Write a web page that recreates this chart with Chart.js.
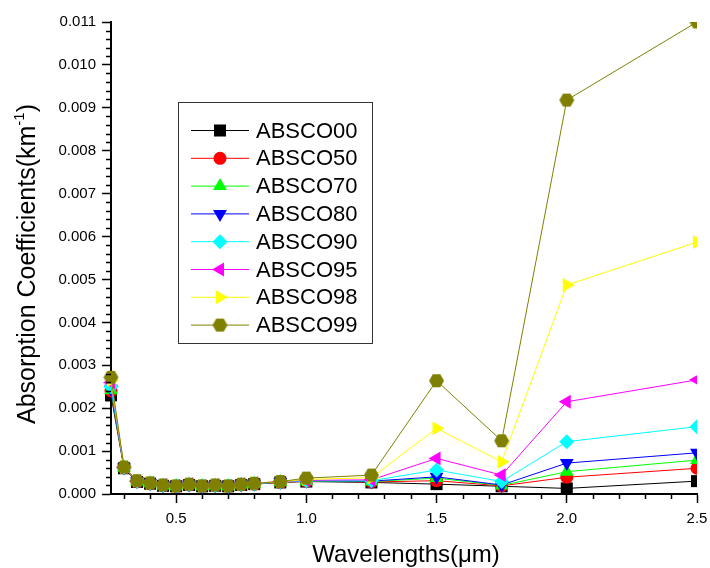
<!DOCTYPE html>
<html>
<head>
<meta charset="utf-8">
<script src="https://cdn.jsdelivr.net/npm/chart.js@4.4.1/dist/chart.umd.min.js"></script>
<style>
  html, body { margin: 0; padding: 0; background: #fff; }
  canvas { display: block; }
</style>
</head>
<body>
<canvas id="myChart" width="710" height="568"></canvas>
<script>
// wavelengths in micrometres
const wavelengths = [0.25, 0.3, 0.35, 0.4, 0.45, 0.5, 0.55, 0.6, 0.65, 0.7, 0.75, 0.8, 0.9, 1.0, 1.25, 1.5, 1.75, 2.0, 2.5];

const absco00 = [0.00230, 0.00060, 0.00028, 0.00024, 0.00019, 0.00018, 0.00021, 0.00018, 0.00019, 0.00018, 0.00021, 0.00023, 0.00027, 0.00029, 0.00027, 0.00023, 0.00018, 0.00013, 0.00030];
const absco50 = [0.00240, 0.00061, 0.00029, 0.00024, 0.00020, 0.00018, 0.00021, 0.00018, 0.00020, 0.00018, 0.00021, 0.00023, 0.00027, 0.00030, 0.00028, 0.00031, 0.00019, 0.00039, 0.00060];
const absco70 = [0.00242, 0.00061, 0.00029, 0.00025, 0.00020, 0.00018, 0.00022, 0.00018, 0.00020, 0.00018, 0.00022, 0.00024, 0.00028, 0.00030, 0.00029, 0.00037, 0.00020, 0.00052, 0.00079];
const absco80 = [0.00245, 0.00062, 0.00030, 0.00025, 0.00020, 0.00019, 0.00022, 0.00018, 0.00020, 0.00018, 0.00022, 0.00024, 0.00028, 0.00031, 0.00030, 0.00040, 0.00021, 0.00072, 0.00096];
const absco90 = [0.00250, 0.00062, 0.00030, 0.00025, 0.00020, 0.00019, 0.00022, 0.00019, 0.00020, 0.00019, 0.00022, 0.00024, 0.00028, 0.00031, 0.00031, 0.00056, 0.00029, 0.00122, 0.00157];
const absco95 = [0.00260, 0.00062, 0.00030, 0.00026, 0.00021, 0.00019, 0.00023, 0.00019, 0.00021, 0.00019, 0.00023, 0.00025, 0.00029, 0.00032, 0.00033, 0.00083, 0.00044, 0.00215, 0.00266];
const absco98 = [0.00265, 0.00063, 0.00031, 0.00026, 0.00021, 0.00019, 0.00023, 0.00019, 0.00021, 0.00019, 0.00023, 0.00025, 0.00029, 0.00034, 0.00038, 0.00153, 0.00075, 0.00487, 0.00587];
const absco99 = [0.00272, 0.00063, 0.00031, 0.00026, 0.00021, 0.00019, 0.00023, 0.00019, 0.00021, 0.00019, 0.00023, 0.00025, 0.00029, 0.00037, 0.00044, 0.00264, 0.00124, 0.00918, 0.01100];

const xTicks = [0.5, 1.0, 1.5, 2.0, 2.5];
const yTicks = [0, 0.001, 0.002, 0.003, 0.004, 0.005, 0.006, 0.007, 0.008, 0.009, 0.010, 0.011];

const FONT = "'Liberation Sans', Arial, sans-serif";

// hexagon marker (Chart.js has no hexagon style)
function hexagon(color, r) {
  const c = document.createElement('canvas');
  const s = Math.ceil(r * 2) + 2;
  c.width = s; c.height = s;
  const g = c.getContext('2d');
  g.fillStyle = color;
  g.beginPath();
  for (let i = 0; i < 6; i++) {
    const a = Math.PI / 3 * i;
    const px = s / 2 + r * Math.cos(a), py = s / 2 + r * Math.sin(a);
    if (i === 0) g.moveTo(px, py); else g.lineTo(px, py);
  }
  g.closePath();
  g.fill();
  return c;
}

const series = [
  { label: 'ABSCO00', values: absco00, color: '#000000', style: 'rect', rot: 0, r: 8.5 },
  { label: 'ABSCO50', values: absco50, color: '#ff0000', style: 'circle', rot: 0, r: 6.5 },
  { label: 'ABSCO70', values: absco70, color: '#00ff00', style: 'triangle', rot: 0, r: 8 },
  { label: 'ABSCO80', values: absco80, color: '#0000ff', style: 'triangle', rot: 180, r: 8 },
  { label: 'ABSCO90', values: absco90, color: '#00ffff', style: 'rectRot', rot: 0, r: 7.5 },
  { label: 'ABSCO95', values: absco95, color: '#ff00ff', style: 'triangle', rot: 270, r: 8 },
  { label: 'ABSCO98', values: absco98, color: '#ffff00', style: 'triangle', rot: 90, r: 8 },
  { label: 'ABSCO99', values: absco99, color: '#808000', style: hexagon('#808000', 7.5), rot: 0, r: 7.5 }
];

const datasets = series.map((s, i) => ({
  label: s.label,
  data: wavelengths.map((w, j) => ({ x: w, y: s.values[j] })),
  showLine: true,
  borderColor: s.color,
  backgroundColor: s.color,
  borderWidth: 1,
  pointStyle: s.style,
  pointRotation: s.rot,
  pointRadius: s.r,
  pointBorderWidth: 0,
  pointBackgroundColor: s.color,
  pointBorderColor: s.color,
  order: series.length - i,
  clip: { left: false, top: 0, right: 0, bottom: false }
}));

// minor ticks, legend and axis titles
const extras = {
  id: 'extras',
  afterDraw(chart) {
    const ctx = chart.ctx;
    const x = chart.scales.x, y = chart.scales.y;
    const area = chart.chartArea;
    ctx.save();
    ctx.strokeStyle = '#000';
    ctx.lineWidth = 1.5;
    ctx.beginPath();
    for (let k = 3; k <= 24; k++) {
      if (k % 5 === 0) continue;
      const px = Math.round(x.getPixelForValue(k / 10)) + 0.5;
      ctx.moveTo(px, area.bottom);
      ctx.lineTo(px, area.bottom + 5);
    }
    for (let k = 1; k < 55; k++) {
      if (k % 5 === 0) continue;
      const py = Math.round(y.getPixelForValue(k * 0.0002)) + 0.5;
      ctx.moveTo(area.left, py);
      ctx.lineTo(area.left - 5, py);
    }
    ctx.stroke();

    // legend
    ctx.lineWidth = 1;
    ctx.strokeStyle = '#333';
    ctx.strokeRect(178.5, 102.5, 194, 241);
    ctx.font = '22px ' + FONT;
    ctx.textBaseline = 'middle';
    ctx.textAlign = 'left';
    series.forEach((s, i) => {
      const cy = 130.5 + i * 27.8;
      ctx.strokeStyle = s.color;
      ctx.lineWidth = 1;
      ctx.beginPath();
      ctx.moveTo(191, cy);
      ctx.lineTo(249, cy);
      ctx.stroke();
      ctx.fillStyle = s.color;
      ctx.strokeStyle = s.color;
      Chart.helpers.drawPoint(ctx, { pointStyle: s.style, rotation: s.rot, radius: s.r, borderWidth: 0 }, 220, cy);
      ctx.fillStyle = '#000';
      ctx.fillText(s.label, 256, cy + 1);
    });

    // axis titles
    ctx.fillStyle = '#000';
    ctx.textBaseline = 'alphabetic';
    ctx.font = '24px ' + FONT;
    ctx.textAlign = 'center';
    ctx.fillText('Wavelengths(\u03bcm)', 406, 562);

    ctx.translate(35, 264);
    ctx.rotate(-Math.PI / 2);
    const main = 'Absorption Coefficients(km';
    ctx.font = '25px ' + FONT;
    const w1 = ctx.measureText(main).width;
    ctx.font = '15px ' + FONT;
    const w2 = ctx.measureText('-1').width;
    ctx.font = '25px ' + FONT;
    const w3 = ctx.measureText(')').width;
    let sx = -(w1 + w2 + w3) / 2;
    ctx.textAlign = 'left';
    ctx.fillText(main, sx, 0);
    sx += w1;
    ctx.font = '15px ' + FONT;
    ctx.fillText('-1', sx, -11);
    sx += w2;
    ctx.font = '25px ' + FONT;
    ctx.fillText(')', sx, 0);
    ctx.restore();
  }
};

const chart = new Chart(document.getElementById('myChart'), {
  type: 'scatter',
  data: { datasets },
  options: {
    responsive: false,
    animation: false,
    layout: { padding: { top: 22, right: 13, left: 0, bottom: 0 } },
    plugins: {
      legend: { display: false },
      tooltip: { enabled: false }
    },
    scales: {
      x: {
        type: 'linear',
        min: 0.25,
        max: 2.5,
        afterBuildTicks: (scale) => { scale.ticks = xTicks.map(v => ({ value: v })); },
        afterFit: (scale) => { scale.height = 74; scale.paddingLeft = 0; scale.paddingRight = 0; },
        ticks: {
          color: '#000',
          font: { family: FONT, size: 15 },
          padding: 7,
          maxRotation: 0,
          callback: (v) => Number(v).toFixed(1)
        },
        grid: { drawOnChartArea: false, drawTicks: true, tickLength: 9, tickColor: '#000', tickWidth: 1.5 },
        border: { display: true, color: '#000', width: 2 }
      },
      y: {
        type: 'linear',
        min: 0,
        max: 0.011,
        afterBuildTicks: (scale) => { scale.ticks = yTicks.map(v => ({ value: v })); },
        afterFit: (scale) => { scale.width = 111; scale.paddingTop = 0; scale.paddingBottom = 0; },
        ticks: {
          color: '#000',
          font: { family: FONT, size: 15 },
          padding: 6,
          callback: (v) => Number(v).toFixed(3)
        },
        grid: { drawOnChartArea: false, drawTicks: true, tickLength: 9, tickColor: '#000', tickWidth: 1.5 },
        border: { display: true, color: '#000', width: 2 }
      }
    }
  },
  plugins: [extras]
});
</script>
</body>
</html>
